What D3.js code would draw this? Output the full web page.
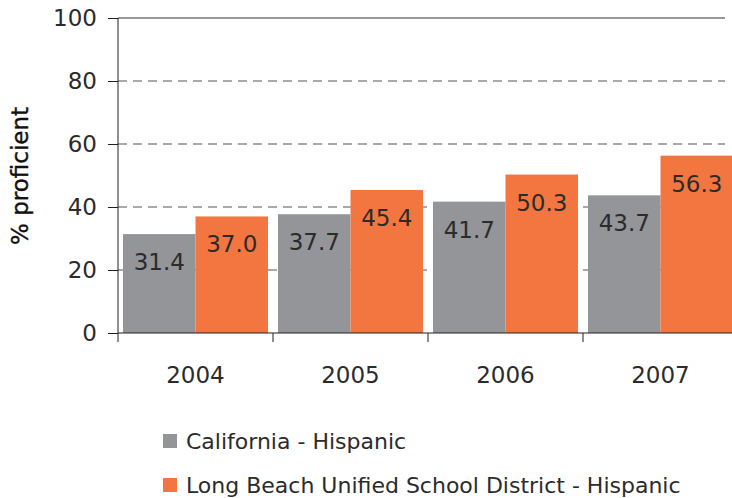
<!DOCTYPE html>
<html>
<head>
<meta charset="utf-8">
<script src="https://cdn.jsdelivr.net/npm/d3@7"></script>
<style>
  body { margin: 0; background: #fff; }
  svg text { font-family: "DejaVu Sans", sans-serif; fill: #2b2b2b; }
</style>
</head>
<body>
<svg id="chart" width="732" height="498"></svg>
<script>
var years = ["2004", "2005", "2006", "2007"];
var california = [31.4, 37.7, 41.7, 43.7];
var longBeach = [37.0, 45.4, 50.3, 56.3];
var seriesNames = ["California - Hispanic", "Long Beach Unified School District - Hispanic"];
var seriesColors = ["#939598", "#f37640"];
var yTicks = [0, 20, 40, 60, 80, 100];

var svg = d3.select("#chart");
var margin = { left: 118, top: 18 };
var plotW = 620, plotH = 315;

var g = svg.append("g").attr("transform", "translate(" + margin.left + "," + margin.top + ")");

var x = d3.scaleBand().domain(years).range([0, plotW]).paddingInner(0).paddingOuter(0);
var y = d3.scaleLinear().domain([0, 100]).range([plotH, 0]);
var pad = 5;
var barW = (x.bandwidth() - 2 * pad) / 2;

// gridlines (behind bars)
g.selectAll(".grid").data(yTicks.filter(function (d) { return d > 0; }))
  .enter().append("line")
  .attr("x1", 0).attr("x2", 607)
  .attr("y1", function (d) { return y(d); })
  .attr("y2", function (d) { return y(d); })
  .attr("stroke", function (d) { return d == 100 ? "#333" : "#555"; })
  .attr("stroke-width", 1.2)
  .attr("stroke-dasharray", function (d) { return d == 100 ? null : "9,6"; });

var data = [];
years.forEach(function (yr, i) {
  data.push({ year: yr, s: 0, v: california[i] });
  data.push({ year: yr, s: 1, v: longBeach[i] });
});

g.selectAll(".bar").data(data).enter().append("rect")
  .attr("x", function (d) { return x(d.year) + pad + d.s * barW; })
  .attr("y", function (d) { return y(d.v); })
  .attr("width", barW)
  .attr("height", function (d) { return plotH - y(d.v); })
  .attr("fill", function (d) { return seriesColors[d.s]; });

g.selectAll(".lbl").data(data).enter().append("text")
  .attr("x", function (d) { return x(d.year) + pad + d.s * barW + barW / 2; })
  .attr("y", function (d) { return y(d.v) + 36; })
  .attr("text-anchor", "middle")
  .style("font-size", "23px")
  .text(function (d) { return d.v.toFixed(1); });

// y axis
var yAxis = d3.axisLeft(y).tickValues(yTicks).tickSize(10).tickPadding(11);
var ya = g.append("g").call(yAxis);
ya.select(".domain").attr("stroke", "#231f20").attr("d", "M0,0V" + plotH);
ya.selectAll(".tick line").attr("stroke", "#231f20");
ya.selectAll("text").style("font-size", "23px").style("font-family", null).attr("fill", null);

// x axis
var xa = g.append("g").attr("transform", "translate(0," + plotH + ")");
xa.append("line").attr("x1", 0).attr("x2", plotW).attr("stroke", "#231f20");
xa.selectAll(".xt").data(years.concat(["end"])).enter().append("line")
  .attr("x1", function (d, i) { return i * x.bandwidth(); })
  .attr("x2", function (d, i) { return i * x.bandwidth(); })
  .attr("y1", 0).attr("y2", 9)
  .attr("stroke", "#231f20");
xa.selectAll(".xl").data(years).enter().append("text")
  .attr("x", function (d) { return x(d) + x.bandwidth() / 2; })
  .attr("y", 50)
  .attr("text-anchor", "middle")
  .style("font-size", "23px")
  .text(function (d) { return d; });

// y title
svg.append("text")
  .attr("transform", "translate(28,176) rotate(-90)")
  .attr("text-anchor", "middle")
  .style("font-size", "23px")
  .style("fill", "#111")
  .style("stroke", "#111")
  .style("stroke-width", 0.4)
  .text("% proficient");

// legend
var leg = svg.selectAll(".leg").data(seriesNames).enter().append("g")
  .attr("transform", function (d, i) { return "translate(163," + (434 + i * 44) + ")"; });
leg.append("rect").attr("width", 14).attr("height", 14)
  .attr("fill", function (d, i) { return seriesColors[i]; });
leg.append("text").attr("x", 23).attr("y", 15)
  .style("font-size", "22px")
  .text(function (d) { return d; });
</script>
</body>
</html>
